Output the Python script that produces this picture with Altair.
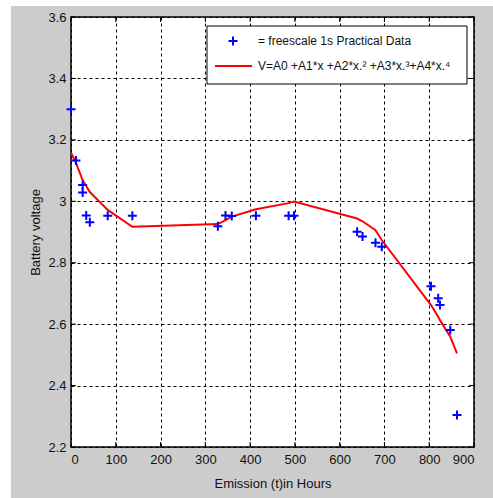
import altair as alt
import pandas as pd

# measured data (hours, battery voltage)
hours = [0, 11, 26, 26, 34, 42, 82, 137, 328, 345, 359, 413, 486, 498,
         639, 651, 680, 694, 804, 820, 824, 847, 862]
volts = [3.300, 3.133, 3.053, 3.029, 2.954, 2.932, 2.953, 2.953, 2.919, 2.954,
         2.952, 2.953, 2.953, 2.953, 2.901, 2.885, 2.865, 2.852, 2.723, 2.684,
         2.662, 2.581, 2.304]

# polynomial fit evaluated at the data hours
fit_hours = [0, 11, 26, 34, 42, 82, 137, 328, 345, 359, 413, 486, 498,
             639, 651, 680, 694, 804, 820, 824, 847, 862]
fit_volts = [3.158, 3.125, 3.069, 3.050, 3.030, 2.972, 2.917, 2.926, 2.939,
             2.950, 2.974, 2.994, 2.999, 2.944, 2.935, 2.906, 2.874, 2.662,
             2.624, 2.613, 2.559, 2.505]

x_ticks = [0, 100, 200, 300, 400, 500, 600, 700, 800, 900]
y_ticks = [2.2, 2.4, 2.6, 2.8, 3.0, 3.2, 3.4, 3.6]

legend_labels = ["= freescale 1s Practical Data",
                 "V=A0 +A1*x +A2*x.\u00b2 +A3*x.\u00b3+A4*x.\u2074"]

W, H = 403, 430
FONT = "Liberation Sans"
PLUS = "M-1,0H1M0,-1V1"

xs = alt.Scale(domain=[0, 900], nice=False, zero=False)
ys = alt.Scale(domain=[2.2, 3.6], nice=False, zero=False)

X = alt.X("h:Q", scale=xs, axis=alt.Axis(
    values=x_ticks, title="Emission (t)in Hours", grid=True, gridDash=[3, 3],
    gridColor="black", gridOpacity=1, gridWidth=1, domain=False, ticks=False,
    labelPadding=6, labelFont=FONT, labelFontSize=13, labelColor="#111",
    titleFont=FONT, titleFontSize=13, titleFontWeight="normal",
    titleColor="#111", titleX=W / 2, titleY=36, titleBaseline="middle"))
Y = alt.Y("v:Q", scale=ys, axis=alt.Axis(
    values=y_ticks, title="Battery voltage", grid=True, gridDash=[3, 3],
    gridColor="black", gridOpacity=1, gridWidth=1, domain=False, ticks=False,
    labelPadding=5, labelFont=FONT, labelFontSize=13, labelColor="#111",
    labelExpr="format(datum.value, '.1~f')",
    titleFont=FONT, titleFontSize=13, titleFontWeight="normal",
    titleColor="#111", titleX=-36, titleY=H / 2, titleBaseline="middle",
    titleAngle=-90))

one = pd.DataFrame({"a": [0]})
pts = pd.DataFrame({"h": hours, "v": volts})
fit = pd.DataFrame({"h": fit_hours, "v": fit_volts})
xt = pd.DataFrame({"h": x_ticks})
yt = pd.DataFrame({"v": y_ticks})

# white page margins around gray figure
strips = alt.Chart(one).mark_rect(color="white", clip=False)
left_strip = strips.encode(x=alt.value(-71), x2=alt.value(-60),
                           y=alt.value(-17), y2=alt.value(H + 51))
top_strip = strips.encode(x=alt.value(-71), x2=alt.value(W + 19),
                          y=alt.value(-17), y2=alt.value(-11))

points = alt.Chart(pts).mark_point(shape=PLUS, size=81, color="#0000ff",
                                   strokeWidth=2, filled=False, opacity=1
                                   ).encode(x=X, y=Y)
line = alt.Chart(fit).mark_line(color="#ff0000", strokeWidth=2).encode(x=X, y=Y)

tk = dict(color="black", strokeWidth=1)
bt = alt.Chart(xt).mark_rule(**tk).encode(x=X, y=alt.value(H), y2=alt.value(H - 5))
tt = alt.Chart(xt).mark_rule(**tk).encode(x=X, y=alt.value(0), y2=alt.value(5))
lt = alt.Chart(yt).mark_rule(**tk).encode(y=Y, x=alt.value(0), x2=alt.value(5))
rt = alt.Chart(yt).mark_rule(**tk).encode(y=Y, x=alt.value(W), x2=alt.value(W - 5))

# legend box
lx0, ly0, lx1, ly1 = 136, 9, 396, 67
box = alt.Chart(one).mark_rect(fill="white", stroke="black", strokeWidth=1).encode(
    x=alt.value(lx0), x2=alt.value(lx1), y=alt.value(ly0), y2=alt.value(ly1))
lg_pt = alt.Chart(one).mark_point(shape=PLUS, size=81, color="#0000ff",
                                  strokeWidth=2, filled=False, opacity=1).encode(
    x=alt.value(162), y=alt.value(24))
lg_ln = alt.Chart(one).mark_rule(color="#ff0000", strokeWidth=2).encode(
    x=alt.value(144), x2=alt.value(181), y=alt.value(49))
lg_t1 = alt.Chart(one).mark_text(align="left", baseline="middle", font=FONT,
                                 fontSize=12, color="#111").encode(
    x=alt.value(187), y=alt.value(24), text=alt.value(legend_labels[0]))
lg_t2 = alt.Chart(one).mark_text(align="left", baseline="middle", font=FONT,
                                 fontSize=12, color="#111").encode(
    x=alt.value(187), y=alt.value(49), text=alt.value(legend_labels[1]))

chart = alt.layer(
    left_strip, top_strip, line, points, bt, tt, lt, rt,
    box, lg_pt, lg_ln, lg_t1, lg_t2
).properties(
    width=W, height=H, background="#cccccc",
    padding={"left": 71, "top": 17, "right": 19, "bottom": 51},
    autosize=alt.AutoSizeParams(type="none"),
).configure_view(fill="white", stroke="black", strokeWidth=1.5)

chart.save("out.html", embed_options={"renderer": "svg", "actions": False})
